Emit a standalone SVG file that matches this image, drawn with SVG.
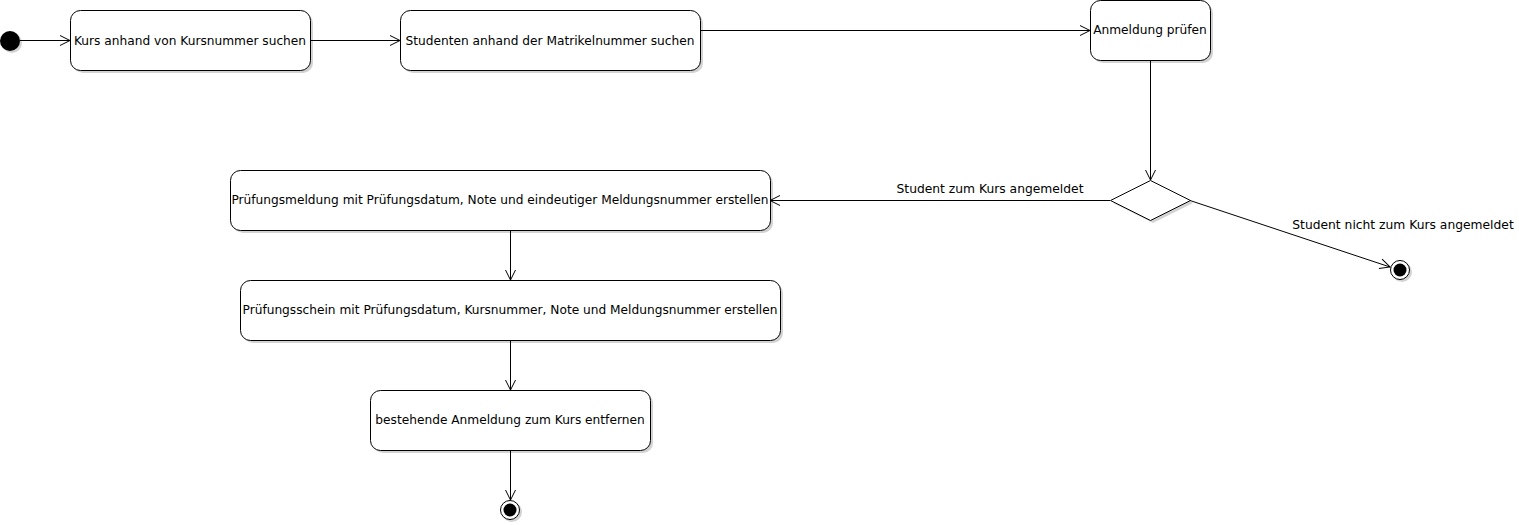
<svg xmlns="http://www.w3.org/2000/svg" width="1519" height="525" viewBox="0 0 1519 525">
<style>
.box{fill:#fff;stroke:#000;stroke-width:1}
.sh{fill:#c8c8c8;opacity:0.8}
.t{font-family:"DejaVu Sans",sans-serif;font-size:12.2px;fill:#000;text-anchor:middle}
.l{font-size:12.3px}
.c{stroke:#000;stroke-width:1;fill:none}
</style>
<defs>
<marker id="a" viewBox="0 0 12 12" refX="11" refY="6" markerWidth="12" markerHeight="12" markerUnits="userSpaceOnUse" orient="auto">
<path d="M1,1 L11,6 L1,11" fill="none" stroke="#000" stroke-width="1"/>
</marker>
</defs>
<rect width="1519" height="525" fill="#fff"/>
<g id="start">
<circle cx="12" cy="43" r="10" class="sh"/>
<circle cx="10" cy="41" r="10" fill="#000"/>
</g>
<g id="n1">
<rect x="73" y="13" width="240" height="60" rx="10" class="sh"/>
<rect x="70.5" y="10.5" width="240" height="60" rx="10" class="box"/>
<text x="190" y="45" class="t">Kurs anhand von Kursnummer suchen</text>
</g>
<g id="n2">
<rect x="403" y="13" width="300" height="60" rx="10" class="sh"/>
<rect x="400.5" y="10.5" width="300" height="60" rx="10" class="box"/>
<text x="550" y="45" class="t">Studenten anhand der Matrikelnummer suchen</text>
</g>
<g id="n3">
<rect x="1093" y="3" width="120" height="60" rx="10" class="sh"/>
<rect x="1090.5" y="0.5" width="120" height="60" rx="10" class="box"/>
<text x="1150" y="34" class="t">Anmeldung prüfen</text>
</g>
<g id="decision">
<path d="M1153,183 L1193,203 L1153,223 L1113,203 Z" class="sh"/>
<path d="M1150.5,180.5 L1190.5,200.5 L1150.5,220.5 L1110.5,200.5 Z" class="box"/>
</g>
<g id="n4">
<rect x="233" y="173" width="540" height="60" rx="10" class="sh"/>
<rect x="230.5" y="170.5" width="540" height="60" rx="10" class="box"/>
<text x="500" y="204" class="t">Prüfungsmeldung mit Prüfungsdatum, Note und eindeutiger Meldungsnummer erstellen</text>
</g>
<g id="n5">
<rect x="243" y="283" width="540" height="60" rx="10" class="sh"/>
<rect x="240.5" y="280.5" width="540" height="60" rx="10" class="box"/>
<text x="510" y="314" class="t">Prüfungsschein mit Prüfungsdatum, Kursnummer, Note und Meldungsnummer erstellen</text>
</g>
<g id="n6">
<rect x="373" y="393" width="280" height="60" rx="10" class="sh"/>
<rect x="370.5" y="390.5" width="280" height="60" rx="10" class="box"/>
<text x="510" y="424" class="t">bestehende Anmeldung zum Kurs entfernen</text>
</g>
<g id="end1">
<circle cx="1402" cy="272" r="10" class="sh"/>
<circle cx="1400" cy="270" r="9.5" fill="#fff" stroke="#000"/>
<circle cx="1400" cy="270" r="6.5" fill="#000"/>
</g>
<g id="end2">
<circle cx="512" cy="512" r="10" class="sh"/>
<circle cx="510" cy="510" r="9.5" fill="#fff" stroke="#000"/>
<circle cx="510" cy="510" r="6.5" fill="#000"/>
</g>
<g id="connectors">
<path d="M20,40.5 L70,40.5" class="c" marker-end="url(#a)"/>
<path d="M310,40.5 L400,40.5" class="c" marker-end="url(#a)"/>
<path d="M700,30.5 L1090,30.5" class="c" marker-end="url(#a)"/>
<path d="M1150.5,60 L1150.5,180" class="c" marker-end="url(#a)"/>
<path d="M1110,200.5 L770,200.5" class="c" marker-end="url(#a)"/>
<path d="M1190,200.5 L1390,267" class="c" marker-end="url(#a)"/>
<path d="M510.5,230 L510.5,280" class="c" marker-end="url(#a)"/>
<path d="M510.5,340 L510.5,390" class="c" marker-end="url(#a)"/>
<path d="M510.5,450 L510.5,500" class="c" marker-end="url(#a)"/>
<text x="990" y="193" class="t l">Student zum Kurs angemeldet</text>
<text x="1403" y="229" class="t l">Student nicht zum Kurs angemeldet</text>
</g>
</svg>
